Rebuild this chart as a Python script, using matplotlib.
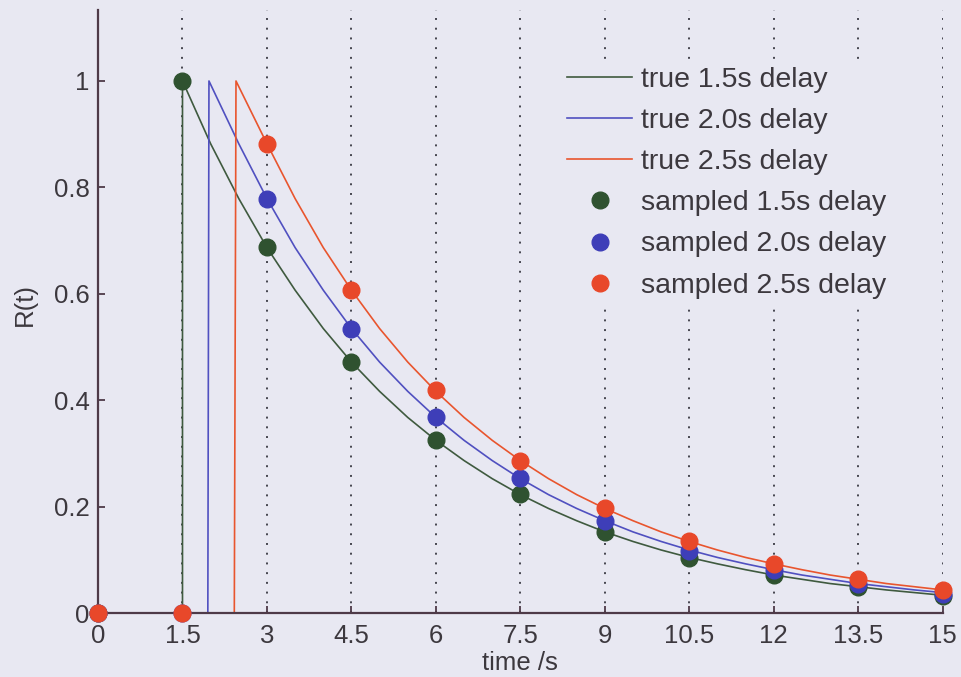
import matplotlib
matplotlib.use("Agg")
import matplotlib.pyplot as plt

# ---- data ----
sample_t = [0, 1.5, 3, 4.5, 6, 7.5, 9, 10.5, 12, 13.5, 15]
sampled_15 = [0, 1.0, 0.688, 0.472, 0.325, 0.224, 0.152, 0.104, 0.072, 0.049, 0.033]
sampled_20 = [0, 0, 0.778, 0.535, 0.368, 0.254, 0.173, 0.117, 0.081, 0.055, 0.037]
sampled_25 = [0, 0, 0.882, 0.607, 0.419, 0.286, 0.197, 0.135, 0.092, 0.064, 0.043]

curve_t_15 = [0, 1.5, 1.5, 2.0, 2.5, 3.0, 3.5, 4.0, 4.5, 5.0, 5.5, 6.0, 6.5, 7.0, 7.5, 8.0,
              8.5, 9.0, 9.5, 10.0, 10.5, 11.0, 11.5, 12.0, 12.5, 13.0, 13.5, 14.0, 14.5, 15.0]
curve_15 = [0, 0, 1.0, 0.882, 0.779, 0.687, 0.607, 0.535, 0.472, 0.417, 0.368, 0.325, 0.287,
            0.253, 0.223, 0.197, 0.174, 0.153, 0.135, 0.119, 0.105, 0.093, 0.082, 0.072,
            0.064, 0.056, 0.050, 0.044, 0.039, 0.034]
curve_t_20 = [0, 1.95, 1.97, 2.5, 3.0, 3.5, 4.0, 4.5, 5.0, 5.5, 6.0, 6.5, 7.0, 7.5, 8.0,
              8.5, 9.0, 9.5, 10.0, 10.5, 11.0, 11.5, 12.0, 12.5, 13.0, 13.5, 14.0, 14.5, 15.0]
curve_20 = [0, 0, 1.0, 0.882, 0.779, 0.687, 0.607, 0.535, 0.472, 0.417, 0.368, 0.325, 0.287,
            0.253, 0.223, 0.197, 0.174, 0.153, 0.135, 0.119, 0.105, 0.093, 0.082, 0.072,
            0.064, 0.056, 0.050, 0.044, 0.039]
curve_t_25 = [0, 2.42, 2.45, 3.0, 3.5, 4.0, 4.5, 5.0, 5.5, 6.0, 6.5, 7.0, 7.5, 8.0,
              8.5, 9.0, 9.5, 10.0, 10.5, 11.0, 11.5, 12.0, 12.5, 13.0, 13.5, 14.0, 14.5, 15.0]
curve_25 = [0, 0, 1.0, 0.882, 0.779, 0.687, 0.607, 0.535, 0.472, 0.417, 0.368, 0.325, 0.287,
            0.253, 0.223, 0.197, 0.174, 0.153, 0.135, 0.119, 0.105, 0.093, 0.082, 0.072,
            0.064, 0.056, 0.050, 0.044]

xticks = [0, 1.5, 3, 4.5, 6, 7.5, 9, 10.5, 12, 13.5, 15]
xtick_labels = ["0", "1.5", "3", "4.5", "6", "7.5", "9", "10.5", "12", "13.5", "15"]
yticks = [0, 0.2, 0.4, 0.6, 0.8, 1.0]
ytick_labels = ["0", "0.2", "0.4", "0.6", "0.8", "1"]
line_labels = ["true 1.5s delay", "true 2.0s delay", "true 2.5s delay"]
sample_labels = ["sampled 1.5s delay", "sampled 2.0s delay", "sampled 2.5s delay"]

# ---- style ----
BG = "#e8e8f2"
TXT = "#3c383e"
SPINE = "#4e3a48"
line_colors = ["#3f5a3f", "#5050c0", "#e8552e"]
marker_colors = ["#2f5230", "#3e3eb8", "#e8482a"]

plt.rcParams["font.family"] = ["Liberation Sans", "DejaVu Sans"]

fig = plt.figure(figsize=(9.61, 6.77), dpi=100, facecolor=BG)
ax = fig.add_axes([0.102, 0.094, 0.879, 0.891], facecolor=BG)

for x in xticks[1:]:
    ax.axvline(x, color="#45454f", lw=1.4, linestyle=(0, (1, 4.0)), zorder=1)

handles = []
for t, v, c, lab in zip([curve_t_15, curve_t_20, curve_t_25],
                        [curve_15, curve_20, curve_25], line_colors, line_labels):
    h, = ax.plot(t, v, color=c, lw=1.2, label=lab, zorder=2)
    handles.append(h)
for v, c, lab in zip([sampled_15, sampled_20, sampled_25], marker_colors, sample_labels):
    h, = ax.plot(sample_t, v, linestyle="none", marker="o", ms=12, color=c,
                 markeredgecolor=c, label=lab, zorder=3, clip_on=False)
    handles.append(h)

ax.set_xlim(0, 15)
ax.set_ylim(0, 1.133)
ax.set_xticks(xticks)
ax.set_xticklabels(xtick_labels)
ax.set_yticks(yticks)
ax.set_yticklabels(ytick_labels)
ax.tick_params(direction="in", length=5, width=1.3, color=SPINE, labelsize=18.5,
               labelcolor=TXT)
ax.tick_params(axis="x", pad=8)
ax.tick_params(axis="y", pad=6)
for s in ["top", "right"]:
    ax.spines[s].set_visible(False)
for s in ["left", "bottom"]:
    ax.spines[s].set_color(SPINE)
    ax.spines[s].set_linewidth(1.6)

ax.set_xlabel("time /s", fontsize=18.5, color=TXT, labelpad=2)
ax.set_ylabel("R(t)", fontsize=18.5, color=TXT)
ax.yaxis.set_label_coords(-0.072, 0.512)

leg = ax.legend(handles=handles, loc="upper left", bbox_to_anchor=(0.549, 0.915),
                frameon=True, fontsize=20.5, numpoints=1, handlelength=2.28,
                handletextpad=0.32, labelspacing=0.53, borderpad=0.2,
                borderaxespad=0)
leg.get_frame().set_facecolor(BG)
leg.get_frame().set_edgecolor(BG)
leg.get_frame().set_alpha(1)
for t in leg.get_texts():
    t.set_color(TXT)

fig.savefig("out.png", dpi=100, facecolor=BG)
